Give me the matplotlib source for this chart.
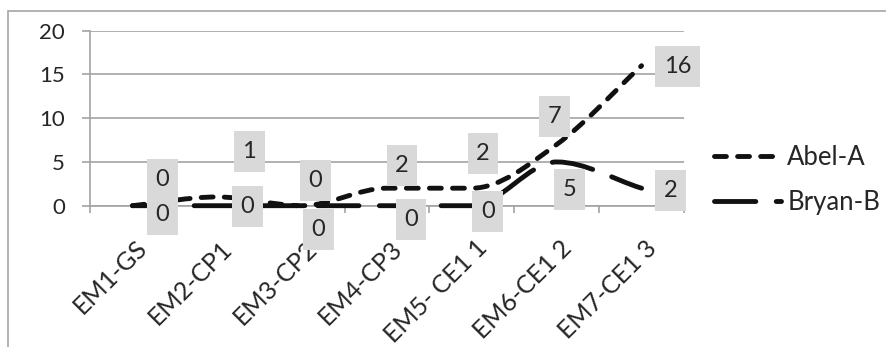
import numpy as np
import matplotlib
matplotlib.use("Agg")
import matplotlib.pyplot as plt
from matplotlib.path import Path
from matplotlib.patches import PathPatch, Rectangle
from matplotlib.lines import Line2D
from matplotlib.transforms import ScaledTranslation

plt.rcParams['font.family'] = ['Lato', 'DejaVu Sans']

# data
categories = ["EM1-GS", "EM2-CP1", "EM3-CP2", "EM4-CP3", "EM5- CE1 1", "EM6-CE1 2", "EM7-CE1 3"]
abel = [0, 1, 0, 2, 2, 7, 16]
bryan = [0, 0, 0, 0, 0, 5, 2]
series_names = ["Abel-A", "Bryan-B"]

# label placement (pixels, relative to the point)
abel_off = [(30, 26), (32, 45), (13, 25), (15, 23), (11, 35), (-2, 28), (36, -1)]
bryan_off = [(30, -9), (30, -1), (16, -24), (24, -14), (16, -6), (13, -28), (29, -2)]

W, H = 887, 347
fig = plt.figure(figsize=(W / 100, H / 100), dpi=100)
ax = fig.add_axes([90 / W, 1 - 205.7 / H, (684 - 90) / W, (205.7 - 30.7) / H])

txt = '#262626'
grid = '#a3a3a3'
ink = '#111111'
lw = 3.5


def smooth_path(xs, ys):
    # smoothed line like excel: cubic bezier through the points,
    # flat tangent at peaks / flat stretches so it does not overshoot
    xs = np.asarray(xs, float)
    ys = np.asarray(ys, float)
    n = len(xs)
    m = np.zeros(n)
    for i in range(n):
        a = ys[i] - ys[i - 1] if i > 0 else None
        b = ys[i + 1] - ys[i] if i < n - 1 else None
        if a is None:
            m[i] = b
        elif b is None:
            m[i] = a
        elif a * b > 0:
            m[i] = (a + b) / 2
    verts = [(xs[0], ys[0])]
    codes = [Path.MOVETO]
    for i in range(n - 1):
        dx = xs[i + 1] - xs[i]
        verts += [(xs[i] + dx / 3, ys[i] + m[i] * dx / 3),
                  (xs[i + 1] - dx / 3, ys[i + 1] - m[i + 1] * dx / 3),
                  (xs[i + 1], ys[i + 1])]
        codes += [Path.CURVE4] * 3
    return Path(verts, codes)


x = np.arange(len(categories))
styles = [(0, (2.45, 2.3)), (0, (8.5, 4.2))]
for vals, ls in zip([abel, bryan], styles):
    p = PathPatch(smooth_path(x, vals), fill=False, ec=ink, lw=lw,
                  linestyle=ls, capstyle='round', joinstyle='round',
                  clip_on=False, zorder=3)
    ax.add_patch(p)

for vals, offs in zip([abel, bryan], [abel_off, bryan_off]):
    for i, v in enumerate(vals):
        ax.annotate(str(v), xy=(x[i], v), xytext=offs[i], textcoords='offset pixels',
                    ha='center', va='center', fontsize=17, color=txt, zorder=5,
                    bbox=dict(boxstyle='square,pad=0.36', fc='#d9d9d9', ec='none',
                              mutation_aspect=1.18),
                    annotation_clip=False)

ax.set_xlim(-0.5, len(categories) - 0.5)
ax.set_ylim(0, 20)
ax.set_yticks([0, 5, 10, 15, 20])
ax.grid(axis='y', color=grid, lw=1.2)
ax.set_axisbelow(True)
for s in ['top', 'right']:
    ax.spines[s].set_visible(False)
for s in ['left', 'bottom']:
    ax.spines[s].set_color(grid)
    ax.spines[s].set_linewidth(1.2)

ax.tick_params(axis='y', length=6, width=1.2, color=grid, pad=12, labelsize=16, labelcolor=txt)
ax.set_xticks(x)
ax.set_xticklabels(categories, rotation=45, ha='right', va='top', rotation_mode='anchor')
ax.set_xticks(np.arange(len(categories) + 1) - 0.5, minor=True)
ax.tick_params(axis='x', which='major', length=0, pad=22, labelsize=18, labelcolor=txt)
ax.tick_params(axis='x', which='minor', length=5, width=1.2, color=grid)
for lab in ax.get_xticklabels():
    lab.set_transform(lab.get_transform() + ScaledTranslation(0.03, 0, fig.dpi_scale_trans))

handles = [Line2D([], [], color=ink, lw=lw, dashes=ls[1], dash_capstyle='round') for ls in styles]
ax.legend(handles, series_names, loc='center left', bbox_to_anchor=(714 / W, 1 - 180 / H),
          bbox_transform=fig.transFigure, frameon=False, fontsize=18.5, handlelength=2.6,
          handletextpad=0.25, labelspacing=0.75, borderpad=0, borderaxespad=0,
          labelcolor=txt)

# chart frame
fig.add_artist(Rectangle((8 / W, -0.5), 2, 1 - 11 / H + 0.5, transform=fig.transFigure,
                         fill=False, ec='#a6a6a6', lw=1.2))

fig.savefig('out.png', dpi=100)
